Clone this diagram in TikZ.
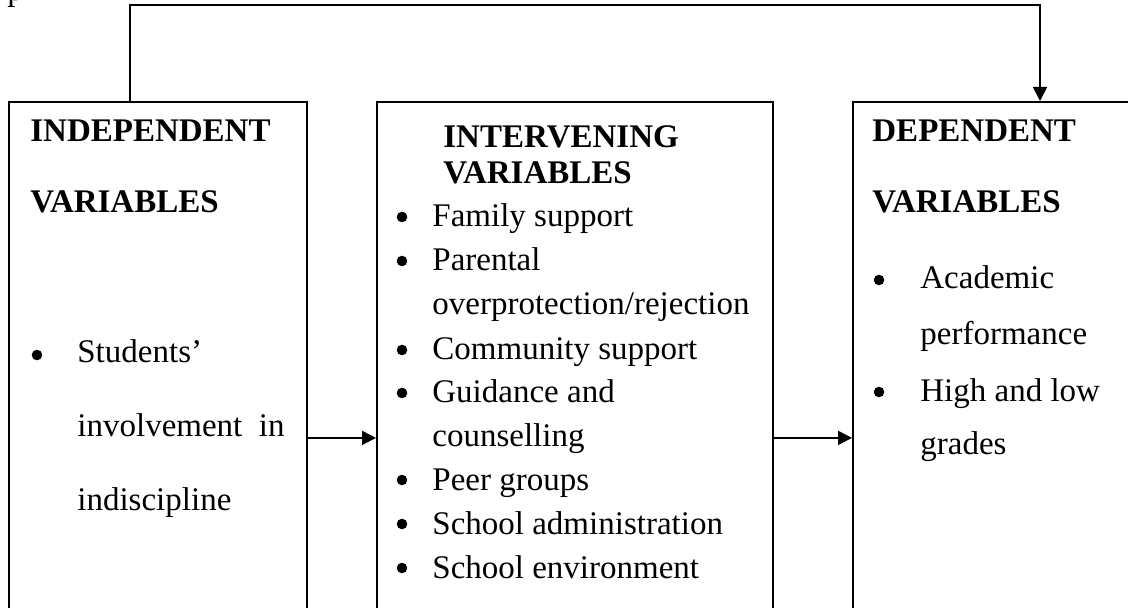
\documentclass[tikz,border=0pt]{standalone}
\usepackage{fontspec}
\setmainfont{Liberation Serif}
\usetikzlibrary{arrows.meta}

\begin{document}
\begin{tikzpicture}[
 x=0.5pt,y=-0.5pt,
 varbox/.style={rectangle,draw=black,line width=0.9pt,anchor=north west,minimum width=#1,minimum height=336pt,inner sep=0pt},
 head/.style={anchor=base west,inner sep=0pt,font=\fontsize{16.5}{19}\selectfont\bfseries},
 item/.style={anchor=base west,inner sep=0pt,font=\fontsize{16.5}{19}\selectfont},
 dot/.style={circle,fill=black,inner sep=0pt,minimum size=5.3pt},
 flow/.style={-{Triangle[length=7pt,width=7pt]},line width=0.9pt}
]
\useasboundingbox (0,0) rectangle (1128,608);
\node[item] (pline) at (7,1) {p};
\node[varbox=149pt] (indep) at (8,101) {};
\node[varbox=198pt] (inter) at (376,101) {};
\node[varbox=160pt] (dep) at (852,101) {};
% independent
\node[head] (indT) at (30,142) {INDEPENDENT};
\node[head] (indV) at (30,213) {VARIABLES};
\node[dot] (indB) at (37,355) {};
\node[item] (ind1) at (77,363) {Students’};
\node[item] (ind2) at (77,437) {involvement\ \ in};
\node[item] (ind3) at (77,510) {indiscipline};
% intervening
\node[head] (intT) at (443,148) {INTERVENING};
\node[head] (intV) at (443,184) {VARIABLES};
\foreach \txt/\yy [count=\i] in {Family support/227,Parental/271,{overprotection/rejection}/315,Community support/360,Guidance and/403,counselling/446,Peer groups/490,School administration/534,School environment/578}
 \node[item] (int\i) at (432,\yy) {\txt};
\foreach \yy [count=\i] in {227,271,360,403,490,534,578}
 \node[dot] (intB\i) at (402,\yy-10) {};
% dependent
\node[head] (depT) at (872,142) {DEPENDENT};
\node[head] (depV) at (872,213) {VARIABLES};
\node[dot] (depB1) at (879,280) {};
\node[item] (dep1) at (920,289) {Academic};
\node[item] (dep2) at (920,345) {performance};
\node[dot] (depB2) at (879,392) {};
\node[item] (dep3) at (920,401) {High and low};
\node[item] (dep4) at (920,454) {grades};
\draw[flow] (indep.east) -- (inter.west);
\draw[flow] (inter.east) -- (dep.west);
\draw[flow] ([xshift=61pt]indep.north west) -- ++(0,-96) -| ([xshift=94pt]dep.north west);
\end{tikzpicture}
\end{document}
